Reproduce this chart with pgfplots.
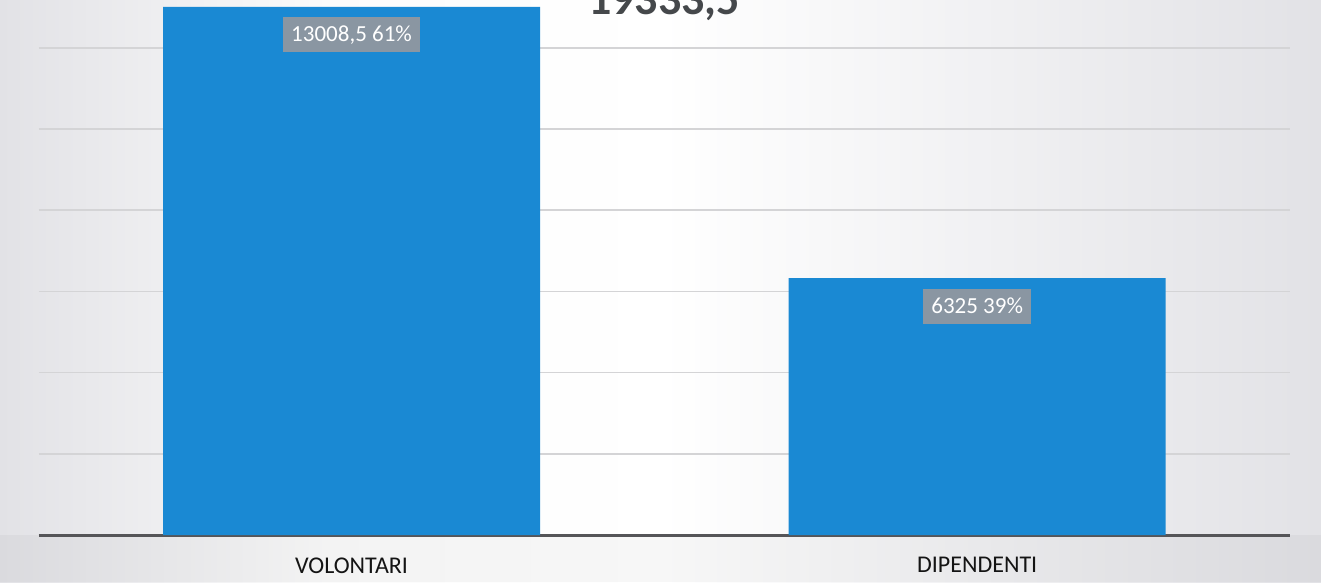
\documentclass[border=0pt]{standalone}
\usepackage{pgfplots}
\pgfplotsset{compat=1.18}
\usepackage{fontspec}
\setmainfont{Carlito}
\definecolor{barblue}{RGB}{26,137,211}
\definecolor{lblbox}{RGB}{138,150,162}
\definecolor{titlegray}{RGB}{69,72,75}
\definecolor{gridgray}{RGB}{212,212,214}
\definecolor{basegray}{RGB}{85,85,88}
\definecolor{edgegray}{RGB}{226,226,230}
\begin{document}
\begin{tikzpicture}
\useasboundingbox (0,0) rectangle (1321pt,582pt);
\shade[left color=edgegray, right color=white, middle color=white!97!gray] (0,0) rectangle (660pt,582pt);
\shade[left color=white, right color=edgegray] (660pt,0) rectangle (1321pt,582pt);
\fill[black, opacity=0.03] (0,0) rectangle (1321pt,47pt);
\begin{axis}[
  at={(38.75pt,47pt)}, anchor=south west,
  width=1251.25pt, height=535pt, scale only axis,
  xmin=-0.5, xmax=1.5, ymin=0, ymax=13177,
  xtick={0,1}, xticklabels={VOLONTARI,DIPENDENTI},
  xticklabel style={font=\fontsize{24}{28}\selectfont, text=black!92, yshift=-19pt},
  ytick={2000,4000,6000,8000,10000,12000}, yticklabels={},
  ymajorgrids, grid style={draw=gridgray, line width=1.6pt},
  major tick length=0pt,
  axis lines*=left,
  y axis line style={draw=none},
  x axis line style={draw=basegray, line width=3pt, -},
  ybar, bar width=377pt,
  point meta=explicit symbolic,
  nodes near coords,
  nodes near coords style={anchor=center, yshift=-28pt, fill=lblbox, text=white,
    font=\fontsize{23}{26}\selectfont, inner xsep=8pt, minimum height=35pt},
  clip=false,
]
\addplot[fill=barblue, draw=none] coordinates {(0,13008.5) [13008,5 61\%] (1,6325) [6325 39\%]};
\end{axis}
\node[anchor=base, font=\bfseries\fontsize{46}{50}\selectfont, text=titlegray] at (664pt,567pt) {19333,5};
\end{tikzpicture}
\end{document}
